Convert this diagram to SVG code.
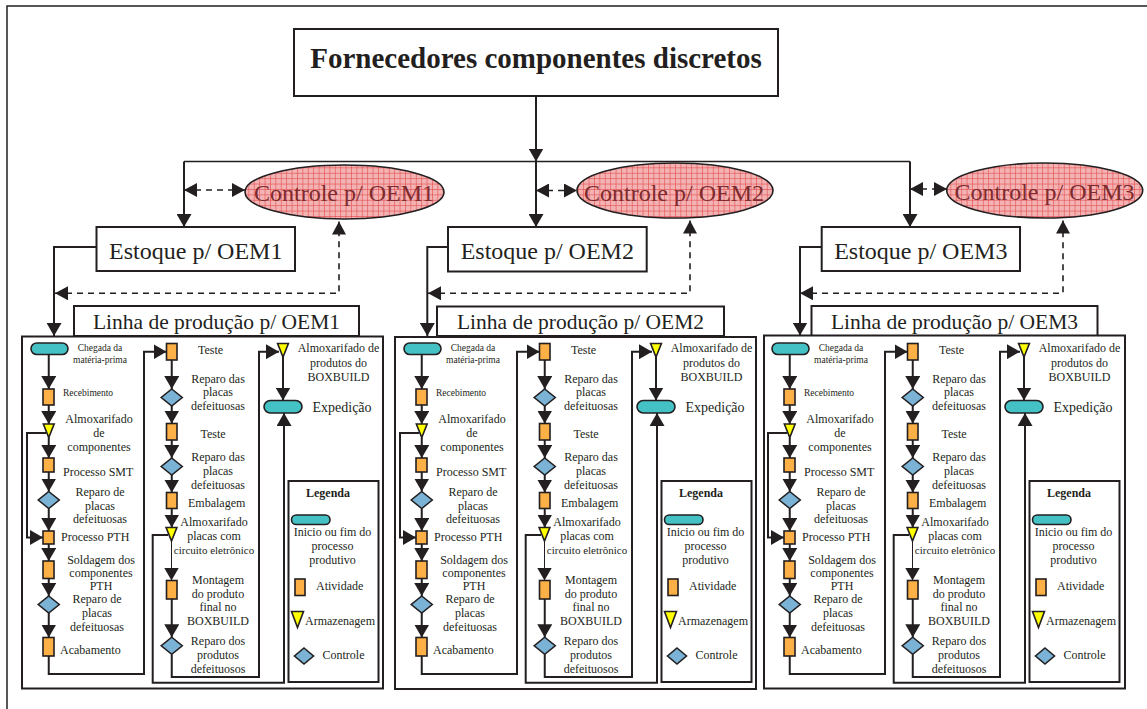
<svg xmlns="http://www.w3.org/2000/svg" xmlns:xlink="http://www.w3.org/1999/xlink" width="1147" height="709" viewBox="0 0 1147 709">
  <style>
    .box{fill:#fff;stroke:#231f20;stroke-width:2}
    .frame{fill:none;stroke:#231f20;stroke-width:1.5}
    .act{fill:#fdb045;stroke:#231f20;stroke-width:1.6}
    .dia{fill:#7bb3d6;stroke:#231f20;stroke-width:1.6}
    .tri{fill:#ffff00;stroke:#231f20;stroke-width:1.6;stroke-linejoin:miter}
    .pill{fill:#44c1c4;stroke:#231f20;stroke-width:1.6}
    .ctl{fill:url(#grid);stroke:#231f20;stroke-width:1.6}
    .ln{fill:none;stroke:#231f20;stroke-width:2;marker-end:url(#ah)}
    .plain{fill:none;stroke:#231f20;stroke-width:1.5}
    .thin{fill:none;stroke:#231f20;stroke-width:1;marker-end:url(#ah)}
    .dash{fill:none;stroke:#231f20;stroke-width:1.6;stroke-dasharray:6 5;marker-start:url(#ahd);marker-end:url(#ahd)}
    text{font-family:"Liberation Serif","Times New Roman",serif;fill:#231f20}
    .s{font-size:9.5px}
    .m{font-size:12px}
    .xs{font-size:11px}
    .c{text-anchor:middle}
    .b{font-weight:bold}
    .big{font-size:24px}
    .lin{font-size:21.5px;text-anchor:middle}
    .ctx{font-size:24px;text-anchor:middle;fill:#7d2b2e}
  </style>
  <defs>
    <pattern id="grid" width="5.4" height="5.4" patternUnits="userSpaceOnUse">
      <rect width="5.4" height="5.4" fill="#f3b3b3"/>
      <path d="M0,0.3H5.4M0.3,0V5.4" stroke="#e2474b" stroke-width="0.7"/>
    </pattern>
    <marker id="ah" viewBox="0 0 13 15" refX="13" refY="7.5" markerWidth="13" markerHeight="15" markerUnits="userSpaceOnUse" orient="auto-start-reverse">
      <path d="M0,0L13,7.5L0,15z" fill="#231f20"/>
    </marker>
    <marker id="ahd" viewBox="0 0 13 14" refX="13" refY="7" markerWidth="13" markerHeight="14" markerUnits="userSpaceOnUse" orient="auto-start-reverse">
      <path d="M0,0L13,7L0,14z" fill="#231f20"/>
    </marker>
    <polygon id="dm" class="dia" points="0,-8.5 10.5,0 0,8.5 -10.5,0"/>
    <polygon id="tr" class="tri" points="-5.4,0 5.4,0 0,13.5"/>
    <rect id="pl" class="pill" x="-18.5" y="-5.75" width="37" height="11.5" rx="5.75"/>
  </defs>

  <rect width="1147" height="709" fill="#fff"/>
  <rect class="frame" x="7" y="6" width="1150" height="710"/>

  <!-- top level nodes -->
  <g id="fornecedores">
    <rect class="box" x="294" y="29" width="484" height="67"/>
    <text class="b c" x="536" y="68" font-size="29">Fornecedores componentes discretos</text>
  </g>
  <g id="controle-oem1">
    <ellipse class="ctl" cx="344.5" cy="192" rx="99.5" ry="27"/>
    <text class="ctx" x="344" y="201">Controle p/ OEM1</text>
  </g>
  <g id="controle-oem2">
    <ellipse class="ctl" cx="675" cy="190.5" rx="98" ry="27.5"/>
    <text class="ctx" x="674" y="200.5">Controle p/ OEM2</text>
  </g>
  <g id="controle-oem3">
    <ellipse class="ctl" cx="1044.7" cy="190.5" rx="98" ry="27.5"/>
    <text class="ctx" x="1044.5" y="200">Controle p/ OEM3</text>
  </g>
  <g id="estoque-oem1">
    <rect class="box" x="96.5" y="227" width="198.5" height="44"/>
    <text class="big c" x="195.75" y="259">Estoque p/ OEM1</text>
  </g>
  <g id="estoque-oem2">
    <rect class="box" x="448" y="227" width="198.7" height="44.5"/>
    <text class="big c" x="547.3" y="259">Estoque p/ OEM2</text>
  </g>
  <g id="estoque-oem3">
    <rect class="box" x="821.7" y="227" width="198.3" height="44"/>
    <text class="big c" x="920.8" y="259">Estoque p/ OEM3</text>
  </g>
  <g id="linha-oem1">
    <rect class="box" x="74" y="306" width="285" height="30"/>
    <text class="lin" x="216.5" y="329">Linha de produção p/ OEM1</text>
  </g>
  <g id="linha-oem2">
    <rect class="box" x="437" y="306.5" width="287" height="29.5"/>
    <text class="lin" x="580.5" y="329">Linha de produção p/ OEM2</text>
  </g>
  <g id="linha-oem3">
    <rect class="box" x="811.5" y="306" width="286" height="30"/>
    <text class="lin" x="954.5" y="329">Linha de produção p/ OEM3</text>
  </g>

  <!-- production line panels -->
  <g id="painel-oem1">
    <rect class="box" x="22" y="336.5" width="361" height="352"/>
    <g id="p1-chegada"><use xlink:href="#pl" x="49.5" y="348.75"/><text class="s c" x="100" y="351">Chegada da</text><text class="s c" x="100" y="363">matéria-prima</text></g>
    <g id="p1-recebimento"><rect class="act" x="43" y="389" width="11" height="16"/><text class="s" x="63" y="396">Recebimento</text></g>
    <g id="p1-almox-comp"><use xlink:href="#tr" x="48.75" y="424"/><text class="m c" y="423"><tspan x="99">Almoxarifado</tspan><tspan x="99" dy="14">de</tspan><tspan x="99" dy="14">componentes</tspan></text></g>
    <g id="p1-smt"><rect class="act" x="43" y="458" width="11" height="14"/><text class="m" x="63" y="476">Processo SMT</text></g>
    <g id="p1-reparo1"><use xlink:href="#dm" x="48.75" y="500"/><text class="m c" y="496"><tspan x="100">Reparo de</tspan><tspan x="100" dy="13.5">placas</tspan><tspan x="100" dy="13.5">defeituosas</tspan></text></g>
    <g id="p1-pth"><rect class="act" x="43" y="531" width="11" height="13"/><text class="m" x="61" y="541">Processo PTH</text></g>
    <g id="p1-soldagem"><rect class="act" x="43" y="561" width="11" height="17.5"/><text class="m c" y="563.5"><tspan x="101">Soldagem dos</tspan><tspan x="101" dy="13">componentes</tspan><tspan x="101" dy="13">PTH</tspan></text></g>
    <g id="p1-reparo2"><use xlink:href="#dm" x="48.75" y="604.5"/><text class="m c" y="603"><tspan x="97">Reparo de</tspan><tspan x="97" dy="14">placas</tspan><tspan x="97" dy="14">defeituosas</tspan></text></g>
    <g id="p1-acabamento"><rect class="act" x="43" y="637.5" width="11" height="18.5"/><text class="m" x="60" y="653.5">Acabamento</text></g>
    <g id="p1-teste1"><rect class="act" x="166.5" y="343.5" width="10.5" height="16.5"/><text class="m" x="198" y="353.5">Teste</text></g>
    <g id="p1-reparo3"><use xlink:href="#dm" x="171.75" y="397.5"/><text class="m c" y="382.5"><tspan x="218">Reparo das</tspan><tspan x="218" dy="13.75">placas</tspan><tspan x="218" dy="13.75">defeituosas</tspan></text></g>
    <g id="p1-teste2"><rect class="act" x="166.5" y="423.5" width="10.5" height="16.5"/><text class="m c" x="213" y="437.5">Teste</text></g>
    <g id="p1-reparo4"><use xlink:href="#dm" x="171.75" y="466.5"/><text class="m c" y="461"><tspan x="218">Reparo das</tspan><tspan x="218" dy="14">placas</tspan><tspan x="218" dy="14">defeituosas</tspan></text></g>
    <g id="p1-embalagem"><rect class="act" x="166.5" y="492.5" width="10.5" height="16"/><text class="m" x="188" y="507">Embalagem</text></g>
    <g id="p1-almox-placas"><use xlink:href="#tr" x="171.5" y="527.5"/><text class="m c" y="526"><tspan x="214">Almoxarifado</tspan><tspan x="214" dy="13.5">placas com</tspan></text><text class="xs c" x="214" y="553.5">circuito eletrônico</text></g>
    <g id="p1-montagem"><rect class="act" x="166.5" y="580.5" width="10.5" height="18.5"/><text class="m c" y="583.5"><tspan x="218">Montagem</tspan><tspan x="218" dy="14">do produto</tspan><tspan x="218" dy="13.5">final no</tspan><tspan x="218" dy="14">BOXBUILD</tspan></text></g>
    <g id="p1-reparo5"><use xlink:href="#dm" x="171.75" y="645.75"/><text class="m c" y="645"><tspan x="218">Reparo dos</tspan><tspan x="218" dy="13.5">produtos</tspan><tspan x="218" dy="14">defeituosos</tspan></text></g>
    <g id="p1-almox-box"><use xlink:href="#tr" x="283" y="343.5"/><text class="m c" y="352"><tspan x="338.5">Almoxarifado de</tspan><tspan x="338.5" dy="14.5">produtos do</tspan><tspan x="338.5" dy="14">BOXBUILD</tspan></text></g>
    <g id="p1-expedicao"><rect class="pill" x="264" y="400.5" width="38" height="12.5" rx="6.25"/><text x="312.5" y="411.5" font-size="14">Expedição</text></g>
    <g id="p1-legenda">
      <rect class="box" x="288.5" y="481" width="90" height="201"/>
      <text class="m b c" x="328" y="497">Legenda</text>
      <rect class="pill" x="291.5" y="515" width="38.5" height="9.5" rx="4.75"/>
      <text class="m c" y="536"><tspan x="332.5">Inicio ou fim do</tspan><tspan x="332.5" dy="14">processo</tspan><tspan x="332.5" dy="14">produtivo</tspan></text>
      <rect class="act" x="295" y="579" width="10" height="16.5"/>
      <text class="m" x="316" y="590">Atividade</text>
      <polygon class="tri" points="291.5,611.5 303.5,611.5 297.5,627.5"/>
      <text class="m" x="305" y="625">Armazenagem</text>
      <polygon class="dia" points="304,648 313.5,656 304,664 294.5,656"/>
      <text class="m" x="322.5" y="658.5">Controle</text>
    </g>
  </g>

  <g id="painel-oem2" transform="translate(373,0)">
    <rect class="box" x="22" y="337" width="361" height="352"/>
    <g id="p2-chegada"><use xlink:href="#pl" x="49.5" y="348.75"/><text class="s c" x="100" y="351">Chegada da</text><text class="s c" x="100" y="363">matéria-prima</text></g>
    <g id="p2-recebimento"><rect class="act" x="43" y="389" width="11" height="16"/><text class="s" x="63" y="396">Recebimento</text></g>
    <g id="p2-almox-comp"><use xlink:href="#tr" x="48.75" y="424"/><text class="m c" y="423"><tspan x="99">Almoxarifado</tspan><tspan x="99" dy="14">de</tspan><tspan x="99" dy="14">componentes</tspan></text></g>
    <g id="p2-smt"><rect class="act" x="43" y="458" width="11" height="14"/><text class="m" x="63" y="476">Processo SMT</text></g>
    <g id="p2-reparo1"><use xlink:href="#dm" x="48.75" y="500"/><text class="m c" y="496"><tspan x="100">Reparo de</tspan><tspan x="100" dy="13.5">placas</tspan><tspan x="100" dy="13.5">defeituosas</tspan></text></g>
    <g id="p2-pth"><rect class="act" x="43" y="531" width="11" height="13"/><text class="m" x="61" y="541">Processo PTH</text></g>
    <g id="p2-soldagem"><rect class="act" x="43" y="561" width="11" height="17.5"/><text class="m c" y="563.5"><tspan x="101">Soldagem dos</tspan><tspan x="101" dy="13">componentes</tspan><tspan x="101" dy="13">PTH</tspan></text></g>
    <g id="p2-reparo2"><use xlink:href="#dm" x="48.75" y="604.5"/><text class="m c" y="603"><tspan x="97">Reparo de</tspan><tspan x="97" dy="14">placas</tspan><tspan x="97" dy="14">defeituosas</tspan></text></g>
    <g id="p2-acabamento"><rect class="act" x="43" y="637.5" width="11" height="18.5"/><text class="m" x="60" y="653.5">Acabamento</text></g>
    <g id="p2-teste1"><rect class="act" x="166.5" y="343.5" width="10.5" height="16.5"/><text class="m" x="198" y="353.5">Teste</text></g>
    <g id="p2-reparo3"><use xlink:href="#dm" x="171.75" y="397.5"/><text class="m c" y="382.5"><tspan x="218">Reparo das</tspan><tspan x="218" dy="13.75">placas</tspan><tspan x="218" dy="13.75">defeituosas</tspan></text></g>
    <g id="p2-teste2"><rect class="act" x="166.5" y="423.5" width="10.5" height="16.5"/><text class="m c" x="213" y="437.5">Teste</text></g>
    <g id="p2-reparo4"><use xlink:href="#dm" x="171.75" y="466.5"/><text class="m c" y="461"><tspan x="218">Reparo das</tspan><tspan x="218" dy="14">placas</tspan><tspan x="218" dy="14">defeituosas</tspan></text></g>
    <g id="p2-embalagem"><rect class="act" x="166.5" y="492.5" width="10.5" height="16"/><text class="m" x="188" y="507">Embalagem</text></g>
    <g id="p2-almox-placas"><use xlink:href="#tr" x="171.5" y="527.5"/><text class="m c" y="526"><tspan x="214">Almoxarifado</tspan><tspan x="214" dy="13.5">placas com</tspan></text><text class="xs c" x="214" y="553.5">circuito eletrônico</text></g>
    <g id="p2-montagem"><rect class="act" x="166.5" y="580.5" width="10.5" height="18.5"/><text class="m c" y="583.5"><tspan x="218">Montagem</tspan><tspan x="218" dy="14">do produto</tspan><tspan x="218" dy="13.5">final no</tspan><tspan x="218" dy="14">BOXBUILD</tspan></text></g>
    <g id="p2-reparo5"><use xlink:href="#dm" x="171.75" y="645.75"/><text class="m c" y="645"><tspan x="218">Reparo dos</tspan><tspan x="218" dy="13.5">produtos</tspan><tspan x="218" dy="14">defeituosos</tspan></text></g>
    <g id="p2-almox-box"><use xlink:href="#tr" x="283" y="343.5"/><text class="m c" y="352"><tspan x="338.5">Almoxarifado de</tspan><tspan x="338.5" dy="14.5">produtos do</tspan><tspan x="338.5" dy="14">BOXBUILD</tspan></text></g>
    <g id="p2-expedicao"><rect class="pill" x="264" y="400.5" width="38" height="12.5" rx="6.25"/><text x="312.5" y="411.5" font-size="14">Expedição</text></g>
    <g id="p2-legenda">
      <rect class="box" x="288.5" y="481" width="90" height="201"/>
      <text class="m b c" x="328" y="497">Legenda</text>
      <rect class="pill" x="291.5" y="515" width="38.5" height="9.5" rx="4.75"/>
      <text class="m c" y="536"><tspan x="332.5">Inicio ou fim do</tspan><tspan x="332.5" dy="14">processo</tspan><tspan x="332.5" dy="14">produtivo</tspan></text>
      <rect class="act" x="295" y="579" width="10" height="16.5"/>
      <text class="m" x="316" y="590">Atividade</text>
      <polygon class="tri" points="291.5,611.5 303.5,611.5 297.5,627.5"/>
      <text class="m" x="305" y="625">Armazenagem</text>
      <polygon class="dia" points="304,648 313.5,656 304,664 294.5,656"/>
      <text class="m" x="322.5" y="658.5">Controle</text>
    </g>
  </g>

  <g id="painel-oem3" transform="translate(741,0)">
    <rect class="box" x="23" y="335.5" width="361" height="353"/>
    <g id="p3-chegada"><use xlink:href="#pl" x="49.5" y="348.75"/><text class="s c" x="100" y="351">Chegada da</text><text class="s c" x="100" y="363">matéria-prima</text></g>
    <g id="p3-recebimento"><rect class="act" x="43" y="389" width="11" height="16"/><text class="s" x="63" y="396">Recebimento</text></g>
    <g id="p3-almox-comp"><use xlink:href="#tr" x="48.75" y="424"/><text class="m c" y="423"><tspan x="99">Almoxarifado</tspan><tspan x="99" dy="14">de</tspan><tspan x="99" dy="14">componentes</tspan></text></g>
    <g id="p3-smt"><rect class="act" x="43" y="458" width="11" height="14"/><text class="m" x="63" y="476">Processo SMT</text></g>
    <g id="p3-reparo1"><use xlink:href="#dm" x="48.75" y="500"/><text class="m c" y="496"><tspan x="100">Reparo de</tspan><tspan x="100" dy="13.5">placas</tspan><tspan x="100" dy="13.5">defeituosas</tspan></text></g>
    <g id="p3-pth"><rect class="act" x="43" y="531" width="11" height="13"/><text class="m" x="61" y="541">Processo PTH</text></g>
    <g id="p3-soldagem"><rect class="act" x="43" y="561" width="11" height="17.5"/><text class="m c" y="563.5"><tspan x="101">Soldagem dos</tspan><tspan x="101" dy="13">componentes</tspan><tspan x="101" dy="13">PTH</tspan></text></g>
    <g id="p3-reparo2"><use xlink:href="#dm" x="48.75" y="604.5"/><text class="m c" y="603"><tspan x="97">Reparo de</tspan><tspan x="97" dy="14">placas</tspan><tspan x="97" dy="14">defeituosas</tspan></text></g>
    <g id="p3-acabamento"><rect class="act" x="43" y="637.5" width="11" height="18.5"/><text class="m" x="60" y="653.5">Acabamento</text></g>
    <g id="p3-teste1"><rect class="act" x="166.5" y="343.5" width="10.5" height="16.5"/><text class="m" x="198" y="353.5">Teste</text></g>
    <g id="p3-reparo3"><use xlink:href="#dm" x="171.75" y="397.5"/><text class="m c" y="382.5"><tspan x="218">Reparo das</tspan><tspan x="218" dy="13.75">placas</tspan><tspan x="218" dy="13.75">defeituosas</tspan></text></g>
    <g id="p3-teste2"><rect class="act" x="166.5" y="423.5" width="10.5" height="16.5"/><text class="m c" x="213" y="437.5">Teste</text></g>
    <g id="p3-reparo4"><use xlink:href="#dm" x="171.75" y="466.5"/><text class="m c" y="461"><tspan x="218">Reparo das</tspan><tspan x="218" dy="14">placas</tspan><tspan x="218" dy="14">defeituosas</tspan></text></g>
    <g id="p3-embalagem"><rect class="act" x="166.5" y="492.5" width="10.5" height="16"/><text class="m" x="188" y="507">Embalagem</text></g>
    <g id="p3-almox-placas"><use xlink:href="#tr" x="171.5" y="527.5"/><text class="m c" y="526"><tspan x="214">Almoxarifado</tspan><tspan x="214" dy="13.5">placas com</tspan></text><text class="xs c" x="214" y="553.5">circuito eletrônico</text></g>
    <g id="p3-montagem"><rect class="act" x="166.5" y="580.5" width="10.5" height="18.5"/><text class="m c" y="583.5"><tspan x="218">Montagem</tspan><tspan x="218" dy="14">do produto</tspan><tspan x="218" dy="13.5">final no</tspan><tspan x="218" dy="14">BOXBUILD</tspan></text></g>
    <g id="p3-reparo5"><use xlink:href="#dm" x="171.75" y="645.75"/><text class="m c" y="645"><tspan x="218">Reparo dos</tspan><tspan x="218" dy="13.5">produtos</tspan><tspan x="218" dy="14">defeituosos</tspan></text></g>
    <g id="p3-almox-box"><use xlink:href="#tr" x="283" y="343.5"/><text class="m c" y="352"><tspan x="338.5">Almoxarifado de</tspan><tspan x="338.5" dy="14.5">produtos do</tspan><tspan x="338.5" dy="14">BOXBUILD</tspan></text></g>
    <g id="p3-expedicao"><rect class="pill" x="264" y="400.5" width="38" height="12.5" rx="6.25"/><text x="312.5" y="411.5" font-size="14">Expedição</text></g>
    <g id="p3-legenda">
      <rect class="box" x="288.5" y="481" width="90" height="201"/>
      <text class="m b c" x="328" y="497">Legenda</text>
      <rect class="pill" x="291.5" y="515" width="38.5" height="9.5" rx="4.75"/>
      <text class="m c" y="536"><tspan x="332.5">Inicio ou fim do</tspan><tspan x="332.5" dy="14">processo</tspan><tspan x="332.5" dy="14">produtivo</tspan></text>
      <rect class="act" x="295" y="579" width="10" height="16.5"/>
      <text class="m" x="316" y="590">Atividade</text>
      <polygon class="tri" points="291.5,611.5 303.5,611.5 297.5,627.5"/>
      <text class="m" x="305" y="625">Armazenagem</text>
      <polygon class="dia" points="304,648 313.5,656 304,664 294.5,656"/>
      <text class="m" x="322.5" y="658.5">Controle</text>
    </g>
  </g>

  <!-- connectors -->
  <g id="connectors">
    <path class="ln" d="M536,96V161.5"/>
    <path class="plain" d="M184,161.5H910"/>
    <path class="ln" d="M184,161.5V227"/>
    <path class="ln" d="M536,161.5V227"/>
    <path class="ln" d="M910,161.5V227"/>
    <path class="dash" d="M184,190H245"/>
    <path class="dash" d="M536,190.5H577"/>
    <path class="dash" d="M910,189H947"/>
    <path class="ln" d="M96.5,247H54V336"/>
    <path class="ln" d="M448,247H427.3V336"/>
    <path class="ln" d="M821.7,247H800V335.5"/>
    <path class="dash" d="M55,293.3H339V221.5"/>
    <path class="dash" d="M428,293.3H690V220.5"/>
    <path class="dash" d="M800,293.3H1063V220.5"/>

    <g id="fluxo-oem1">
      <path class="ln" d="M48.75,354.5V389"/>
      <path class="ln" d="M48.75,405V424"/>
      <path class="ln" d="M48.75,437.5V458"/>
      <path class="ln" d="M48.75,472V491.5"/>
      <path class="ln" d="M48.75,508.5V531"/>
      <path class="ln" d="M48.75,544V561"/>
      <path class="ln" d="M48.75,578.5V596"/>
      <path class="ln" d="M48.75,613V637.5"/>
      <path class="ln" d="M46,433H27V537.5H43"/>
      <path class="ln" d="M48.75,656V674H144V351.7H166.5"/>
      <path class="ln" d="M171.75,360V389"/>
      <path class="ln" d="M171.75,406V423.5"/>
      <path class="ln" d="M171.75,440V458"/>
      <path class="ln" d="M171.75,475V492.5"/>
      <path class="ln" d="M171.75,508.5V527.5"/>
      <path class="thin" d="M171.5,541V580.5"/>
      <path class="ln" d="M171.75,599V637.25"/>
      <path class="ln" d="M171.75,654.25V677H259V351.7H279"/>
      <path class="ln" d="M168,535H152.7V682.7H284V413"/>
      <path class="ln" d="M283,357V400.5"/>
    </g>
    <use xlink:href="#fluxo-oem1" transform="translate(373,0)"/>
    <use xlink:href="#fluxo-oem1" transform="translate(741,0)"/>
  </g>
</svg>
